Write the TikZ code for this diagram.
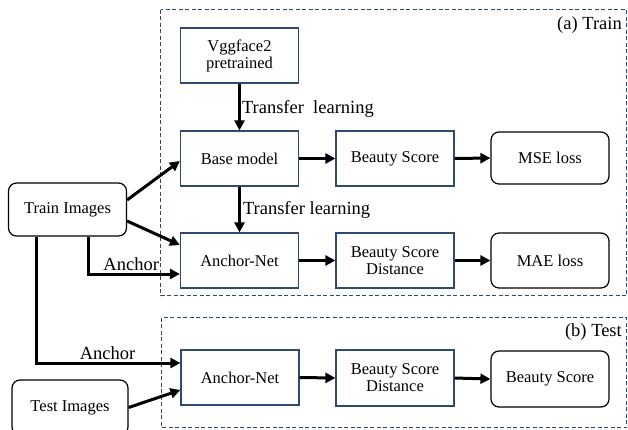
\documentclass[tikz,border=0pt]{standalone}
\usepackage{fontspec}
\setmainfont{Liberation Serif}
\usetikzlibrary{arrows.meta}
\definecolor{navy}{HTML}{2F4A70}
\tikzset{
  bluebox/.style={draw=navy, line width=1.2pt, minimum width=118pt, minimum height=55pt, align=center, inner sep=2pt, font=\rmfamily\fontsize{16.5}{19}\selectfont},
  roundbox/.style={draw=black, line width=1.2pt, rounded corners=8pt, minimum width=118pt, minimum height=53pt, align=center, inner sep=2pt, font=\rmfamily\fontsize{16.5}{19}\selectfont},
  flow/.style={line width=3pt, -{Triangle[length=10pt,width=10pt]}},
  lbl/.style={font=\rmfamily\fontsize{18.5}{20}\selectfont, inner sep=0pt},
  region/.style={draw=navy, line width=1.1pt, dash pattern=on 4pt off 2.5pt}
}
\begin{document}
\begin{tikzpicture}[x=1pt,y=-1pt]
\useasboundingbox (0,0) rectangle (628,429);
% regions
\draw[region] (160.5,9.5) rectangle (626.5,295.5);
\draw[region] (161.5,317.5) rectangle (626.5,427.5);
\node[lbl, anchor=east] (ta) at (622,25) {(a) Train};
\node[lbl, anchor=east] (tb) at (622,332) {(b) Test};
% nodes
\node[bluebox] (vgg) at (239.5,55.5) {Vggface2\\[-2pt]pretrained};
\node[bluebox] (base) at (239.5,158.5) {Base model};
\node[bluebox] (bs) at (395,158.5) {Beauty Score};
\node[roundbox, minimum height=52pt] (mse) at (550,158) {MSE loss};
\node[roundbox] (train) at (67.5,209.5) {Train Images};
\node[bluebox] (an1) at (239.5,260.5) {Anchor-Net};
\node[bluebox] (bsd1) at (395,260.5) {Beauty Score\\[-2pt]Distance};
\node[roundbox, minimum height=55pt] (mae) at (550,260.5) {MAE loss};
\node[bluebox] (an2) at (240,377.5) {Anchor-Net};
\node[bluebox, minimum height=56pt] (bsd2) at (395,378) {Beauty Score\\[-2pt]Distance};
\node[roundbox, minimum height=56pt] (bsc) at (550,379) {Beauty Score};
\node[roundbox, minimum width=116pt, minimum height=55pt] (test) at (70,407.5) {Test Images};
% arrows
\draw[flow] (vgg.south) -- (base.north) node[lbl, midway, anchor=west, xshift=1pt, yshift=-2pt] (tl1) {Transfer\ \ learning};
\draw[flow] (base.south) -- (an1.north) node[lbl, midway, anchor=west, xshift=2pt] (tl2) {Transfer learning};
\draw[flow] (base.east) -- (bs.west);
\draw[flow] (bs.east) -- (mse.west);
\draw[flow] ([yshift=9.5pt]train.east) -- ([yshift=-2.5pt]base.west);
\draw[flow] ([yshift=-11.5pt]train.east) -- ([yshift=15.5pt]an1.west);
\coordinate (c1) at ([xshift=20.5pt]train.south);
\draw[flow] (c1) |- ([yshift=-13.5pt]an1.west) node[lbl, pos=0.735, above, yshift=2pt] (al1) {Anchor};
\coordinate (c2) at ([xshift=-31.5pt]train.south);
\draw[flow] (c2) |- ([yshift=14.5pt]an2.west) node[lbl, pos=0.748, above, yshift=2pt] (al2) {Anchor};
\draw[flow] (test.east) -- ([yshift=-12.5pt]an2.west);
\draw[flow] (an1.east) -- (bsd1.west);
\draw[flow] (bsd1.east) -- (mae.west);
\draw[flow] (an2.east) -- (bsd2.west);
\draw[flow] (bsd2.east) -- (bsc.west);
\end{tikzpicture}
\end{document}
